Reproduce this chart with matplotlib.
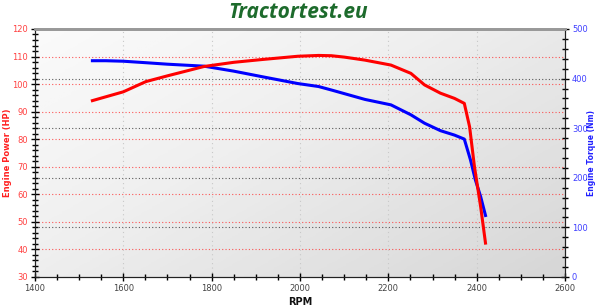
import numpy as np
import matplotlib.pyplot as plt

# data
rpm_power = [1530, 1600, 1651, 1700, 1783, 1850, 1913, 1995, 2042, 2071, 2100, 2147,
             2206, 2251, 2282, 2318, 2350, 2372, 2384, 2395, 2409, 2420]
power_hp = [94.0, 97.2, 100.9, 103.0, 106.4, 107.9, 108.9, 110.1, 110.4, 110.3, 109.8, 108.7,
            106.9, 103.9, 99.7, 96.7, 94.8, 93.0, 84.5, 70.0, 55.5, 42.3]

rpm_torque = [1530, 1560, 1600, 1651, 1700, 1783, 1850, 1913, 1995, 2042, 2071, 2147,
              2206, 2251, 2282, 2318, 2350, 2372, 2386, 2397, 2409, 2420]
torque_nm = [436, 436, 435, 432, 429, 425, 415, 404, 390, 384, 377, 358,
             347, 327, 310, 295, 286, 278, 236, 196, 162, 124]

x_ticks = [1400, 1600, 1800, 2000, 2200, 2400, 2600]

fig = plt.figure(figsize=(5.96, 3.06), dpi=100)
pos = [0.0587, 0.0948, 0.8893, 0.8105]

# gradient background on its own axes, behind the curves
bg = fig.add_axes(pos, zorder=0)
gx, gy = np.meshgrid(np.linspace(0, 1, 200), np.linspace(0, 1, 200))
grad = 0.55 * gx + 0.45 * gy
bg.imshow(grad, extent=[0, 1, 0, 1], aspect='auto', cmap='Greys',
          vmin=-0.15, vmax=4.2, origin='upper')
bg.set_axis_off()

ax2 = fig.add_axes(pos, zorder=1)
ax = fig.add_axes(pos, zorder=2, sharex=ax2)
ax.patch.set_visible(False)
ax2.patch.set_visible(False)
ax2.yaxis.tick_right()

ax.set_xlim(1400, 2600)
ax.set_ylim(30, 120)
ax2.set_ylim(0, 500)

# grids
for v in range(40, 120, 10):
    ax2.axhline((v - 30) * 500 / 90, color='#ff3030', lw=0.8, ls=(0, (1, 2)), alpha=0.8)
for t in range(100, 500, 100):
    ax2.axhline(t, color='#333333', lw=0.8, ls=(0, (1, 2)), alpha=0.8)
for xv in x_ticks[1:-1]:
    ax2.axvline(xv, color='#c8c8c8', lw=0.8, ls=(0, (1, 3)))

ax2.plot(rpm_torque, torque_nm, color='#0000ff', lw=2.2)
ax.plot(rpm_power, power_hp, color='#ff0000', lw=2.2)

# ticks
ax.set_xticks(x_ticks)
ax.set_xticks(np.arange(1400, 2601, 50), minor=True)
ax.set_yticks(range(30, 121, 10))
ax.set_yticks(range(30, 121, 2), minor=True)
ax2.set_yticks(range(0, 501, 100))
ax2.set_yticks(range(0, 501, 20), minor=True)
ax2.tick_params(axis='x', which='both', bottom=False, labelbottom=False)

ax.tick_params(axis='x', which='major', direction='inout', length=6, width=1,
               labelsize=6, labelcolor='#444444', pad=2)
ax.tick_params(axis='x', which='minor', direction='inout', length=4, width=1)
ax.tick_params(axis='y', which='major', direction='inout', length=6, width=1,
               labelsize=6, labelcolor='#ff4040', pad=2)
ax.tick_params(axis='y', which='minor', direction='inout', length=4, width=1)
ax2.tick_params(axis='y', which='major', direction='inout', length=6, width=1,
                labelsize=6, labelcolor='#4040ff', pad=2)
ax2.tick_params(axis='y', which='minor', direction='inout', length=4, width=1)

for a in (ax, ax2):
    a.spines['top'].set_color('#999999')
    a.spines['top'].set_linewidth(2)
    a.spines['left'].set_color('#222222')
    a.spines['right'].set_color('#222222')
    a.spines['bottom'].set_color('#222222')

ax.set_xlabel('RPM', fontsize=7, fontweight='bold', color='#111111', labelpad=3)
ax.set_ylabel('Engine Power (HP)', fontsize=6, fontweight='bold', color='#ff2020',
              va='center', rotation=90)
ax.yaxis.set_label_coords(-0.051, 0.5)
ax2.set_ylabel('Engine Torque (Nm)', fontsize=5.5, fontweight='bold', color='#2020ff',
               va='center', rotation=90)
ax2.yaxis.set_label_position('right')
ax2.yaxis.set_label_coords(1.041, 0.5)

fig.text(0.5, 0.958, 'Tractortest.eu', ha='center', va='center', fontsize=15,
         fontweight='bold', fontstyle='italic', color='#1d6b2c', family='Open Sans')

fig.savefig('out.png', dpi=100)
